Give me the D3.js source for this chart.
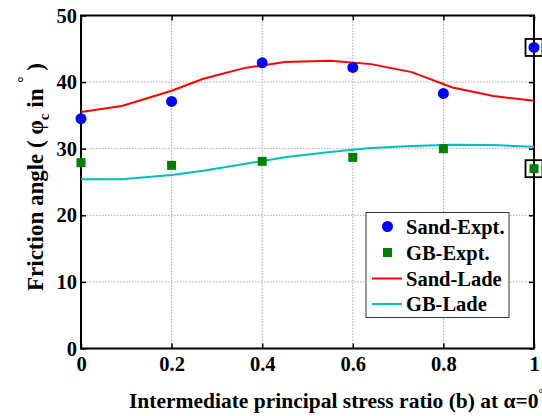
<!DOCTYPE html>
<html>
<head>
<meta charset="utf-8">
<script src="https://cdn.jsdelivr.net/npm/d3@7"></script>
<style>
  html, body { margin: 0; padding: 0; background: #fff; }
  svg { display: block; }
  text { font-family: "Liberation Serif", "Times New Roman", serif; font-weight: bold; fill: #000; }
</style>
</head>
<body>
<svg id="chart" width="542" height="416"></svg>
<script>
// ---- data ----
const bTicks = [0, 0.2, 0.4, 0.6, 0.8, 1];
const yTicks = [0, 10, 20, 30, 40, 50];
const expB = [0, 0.2, 0.4, 0.6, 0.8, 1];
const sandExpt = [34.5, 37.1, 42.9, 42.2, 38.3, 45.2];
const gbExpt = [27.9, 27.5, 28.1, 28.7, 30.0, 27.0];
const ladeB = [0, 0.09, 0.2, 0.27, 0.36, 0.45, 0.55, 0.64, 0.73, 0.82, 0.91, 1.0];
const sandLade = [35.5, 36.4, 38.7, 40.5, 42.1, 43.0, 43.2, 42.7, 41.5, 39.2, 37.9, 37.2];
const gbLade = [25.4, 25.4, 26.05, 26.7, 27.7, 28.7, 29.5, 30.1, 30.4, 30.6, 30.55, 30.3];
const legendLabels = ["Sand-Expt.", "GB-Expt.", "Sand-Lade", "GB-Lade"];
const highlighted = [{ b: 1, v: 45.2 }, { b: 1, v: 27.0 }];

// ---- layout ----
const svg = d3.select("#chart");
const L = 81, R = 534, T = 15.5, B = 348.5;
const x = d3.scaleLinear().domain([0, 1]).range([L, R]);
const y = d3.scaleLinear().domain([0, 50]).range([B, T]);

// grid
const grid = svg.append("g");
grid.selectAll("line.gx").data(bTicks.slice(1, -1)).join("line")
  .attr("x1", d => x(d)).attr("x2", d => x(d)).attr("y1", T).attr("y2", B)
  .attr("stroke", "#a8a8a8").attr("stroke-width", 1).attr("stroke-dasharray", "1.5,1.5");
grid.selectAll("line.gy").data(yTicks.slice(1, -1)).join("line")
  .attr("y1", d => y(d)).attr("y2", d => y(d)).attr("x1", L).attr("x2", R)
  .attr("stroke", "#a8a8a8").attr("stroke-width", 1).attr("stroke-dasharray", "1.5,1.5");

// axes (ticks inward)
const axB = svg.append("g").attr("transform", `translate(0,${B})`)
  .call(d3.axisBottom(x).tickValues(bTicks).tickSize(-5).tickPadding(9).tickFormat(d => d3.format("")(d)));
const axL = svg.append("g").attr("transform", `translate(${L},0)`)
  .call(d3.axisLeft(y).tickValues(yTicks).tickSize(-5).tickPadding(4));
const axT = svg.append("g").attr("transform", `translate(0,${T})`)
  .call(d3.axisTop(x).tickValues(bTicks).tickSize(-5).tickFormat(""));
const axR = svg.append("g").attr("transform", `translate(${R},0)`)
  .call(d3.axisRight(y).tickValues(yTicks).tickSize(-5).tickFormat(""));
[axB, axL, axT, axR].forEach(a => {
  a.select(".domain").remove();
  a.selectAll(".tick line").attr("stroke", "#000").attr("stroke-width", 1.5);
  a.selectAll("text").attr("font-size", 20.5).attr("font-family", "'Liberation Serif', 'Times New Roman', serif")
    .attr("font-weight", "bold").attr("fill", "#000");
});
axB.selectAll("text").attr("dy", "0.68em");

// frame
svg.append("rect").attr("x", L).attr("y", T).attr("width", R - L).attr("height", B - T)
  .attr("fill", "none").attr("stroke", "#000").attr("stroke-width", 2);

// lines
const line = d3.line().x(d => x(d[0])).y(d => y(d[1]));
svg.append("path").datum(ladeB.map((b, i) => [b, sandLade[i]])).attr("d", line)
  .attr("fill", "none").attr("stroke", "#ff0000").attr("stroke-width", 2);
svg.append("path").datum(ladeB.map((b, i) => [b, gbLade[i]])).attr("d", line)
  .attr("fill", "none").attr("stroke", "#00bfbf").attr("stroke-width", 2);

// markers
svg.selectAll("circle.sand").data(expB.map((b, i) => [b, sandExpt[i]])).join("circle")
  .attr("cx", d => x(d[0])).attr("cy", d => y(d[1])).attr("r", 5.5).attr("fill", "#0000ff");
const sq = 9;
svg.selectAll("rect.gb").data(expB.map((b, i) => [b, gbExpt[i]])).join("rect")
  .attr("x", d => x(d[0]) - sq / 2).attr("y", d => y(d[1]) - sq / 2)
  .attr("width", sq).attr("height", sq).attr("fill", "#008000");

// highlight boxes
const hb = 17;
svg.selectAll("rect.hl").data(highlighted).join("rect")
  .attr("x", d => x(d.b) - hb / 2).attr("y", d => y(d.v) - hb / 2)
  .attr("width", hb).attr("height", hb)
  .attr("fill", "none").attr("stroke", "#000").attr("stroke-width", 1.8);

// legend
const lg = svg.append("g");
lg.append("rect").attr("x", 366).attr("y", 212.5).attr("width", 143).attr("height", 105)
  .attr("fill", "#fff").attr("stroke", "#333").attr("stroke-width", 1);
const rowsY = [226.5, 252.5, 278.5, 304];
legendLabels.forEach((lab, i) => {
  const cy = rowsY[i];
  if (i === 0) lg.append("circle").attr("cx", 387.5).attr("cy", cy).attr("r", 5.5).attr("fill", "#0000ff");
  if (i === 1) lg.append("rect").attr("x", 387.5 - 4.5).attr("y", cy - 4.5).attr("width", 9).attr("height", 9).attr("fill", "#008000");
  if (i === 2) lg.append("line").attr("x1", 372).attr("x2", 402).attr("y1", cy).attr("y2", cy).attr("stroke", "#ff0000").attr("stroke-width", 2);
  if (i === 3) lg.append("line").attr("x1", 372).attr("x2", 402).attr("y1", cy).attr("y2", cy).attr("stroke", "#00bfbf").attr("stroke-width", 2);
  lg.append("text").attr("x", 406).attr("y", cy).attr("dy", "0.35em").attr("font-size", 20.5).text(lab);
});

// x title
const xt = svg.append("text").attr("x", 129).attr("y", 408).attr("font-size", 21.5);
xt.append("tspan").text("Intermediate principal stress ratio (b) at α=0");
xt.append("tspan").attr("dy", -11).attr("font-size", 12).text("°");

// y title
const yt = svg.append("text").attr("transform", "translate(43,177) rotate(-90)")
  .attr("text-anchor", "middle").attr("font-size", 23);
yt.append("tspan").text("Friction angle ( φ");
yt.append("tspan").attr("dy", 6).attr("font-size", 15).text("c");
yt.append("tspan").attr("dy", -6).text(" in ");
yt.append("tspan").attr("dy", -14).attr("font-size", 16).text("°");
yt.append("tspan").attr("dy", 14).text(" )");
</script>
</body>
</html>
